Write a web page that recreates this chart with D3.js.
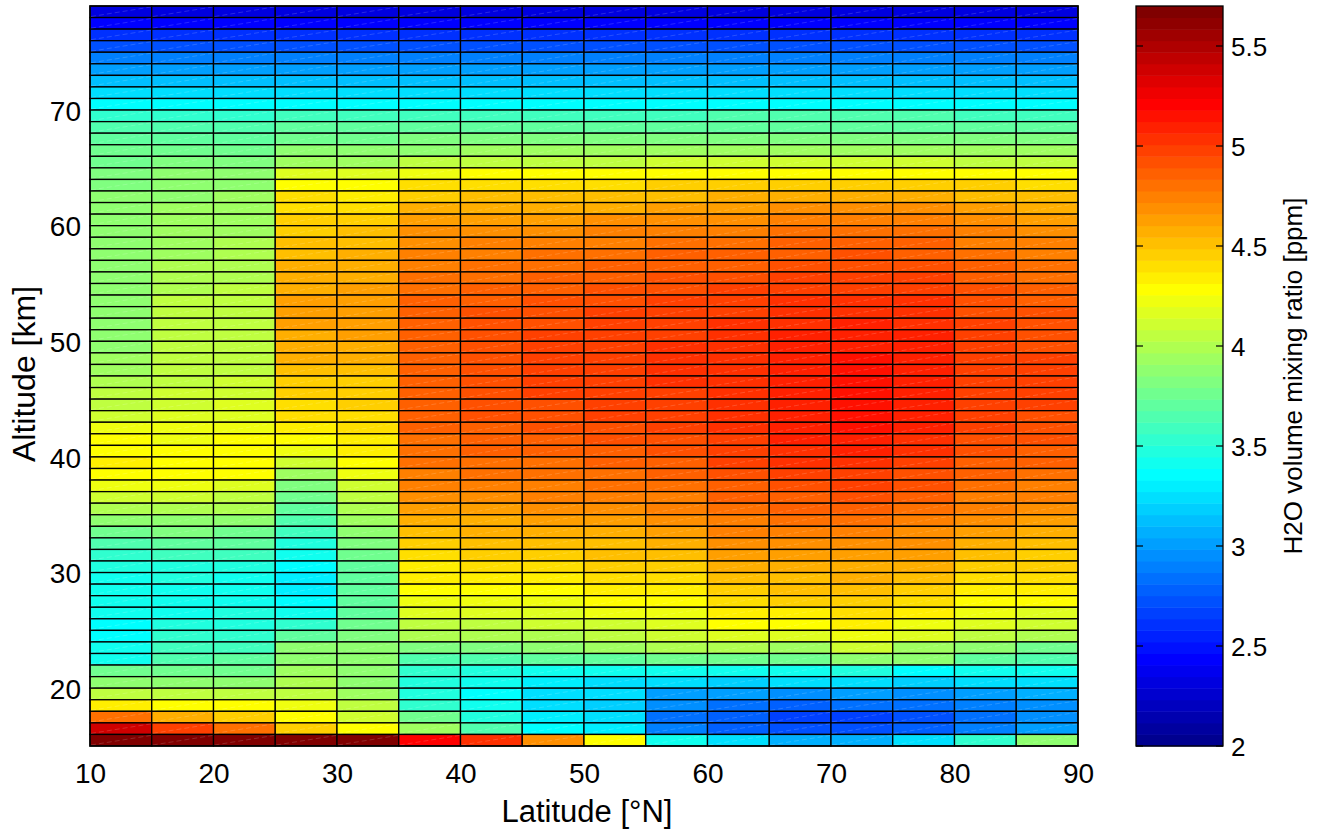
<!DOCTYPE html>
<html>
<head>
<meta charset="utf-8">
<script src="https://cdn.jsdelivr.net/npm/d3@7"></script>
<style>
  html, body { margin: 0; padding: 0; background: #fff; }
  svg text { font-family: "Liberation Sans", Arial, Helvetica, sans-serif; fill: #000; }
</style>
</head>
<body>
<svg id="chart" width="1319" height="830"></svg>
<script>
// ---------------- DATA ----------------
// Latitude bin edges [°N]
const latEdges = [10, 15, 20, 25, 30, 35, 40, 45, 50, 55, 60, 65, 70, 75, 80, 85, 90];
// Altitude of the lower edge of each 1-km row, from top (78 km) to bottom (15 km)
const altitudes = [78,77,76,75,74,73,72,71,70,69,68,67,66,65,64,63,62,61,60,59,58,57,56,55,54,53,52,51,50,49,48,47,46,45,44,43,42,41,40,39,38,37,36,35,34,33,32,31,30,29,28,27,26,25,24,23,22,21,20,19,18,17,16,15];

// H2O VMR [ppm] per latitude bin, listed top (78 km) to bottom (15 km)
const lat10 = [2.33,2.45,2.6,2.75,2.9,3.02,3.14,3.26,3.38,
  3.55,3.62,3.68,3.74,3.78,3.82,3.84,3.85,3.86,3.86,
  3.86,3.87,3.87,3.88,3.88,3.88,3.88,3.88,3.88,3.88,
  3.9,3.92,3.95,3.98,4.03,4.08,4.13,4.2,4.27,4.31,
  4.32,4.3,4.22,4.12,4.0,3.88,3.78,3.66,3.56,3.48,
  3.42,3.4,3.4,3.39,3.38,3.38,3.39,3.42,3.74,3.87,
  4.08,4.35,4.83,5.4,5.65];
const lat15 = [2.33,2.45,2.6,2.75,2.9,3.02,3.14,3.26,3.38,
  3.56,3.63,3.7,3.76,3.8,3.85,3.88,3.9,3.92,3.93,
  3.94,3.95,3.96,3.98,4.0,4.02,4.03,4.03,4.03,4.03,
  4.04,4.05,4.06,4.08,4.1,4.13,4.16,4.2,4.24,4.28,
  4.3,4.28,4.2,4.1,4.0,3.9,3.8,3.7,3.6,3.5,
  3.45,3.42,3.42,3.44,3.48,3.52,3.6,3.65,3.78,3.9,
  4.08,4.31,4.58,5.0,5.65];
const lat20 = [2.33,2.45,2.6,2.75,2.9,3.02,3.14,3.26,3.38,
  3.56,3.63,3.7,3.76,3.82,3.87,3.9,3.92,3.94,3.95,
  3.96,3.97,3.98,4.0,4.02,4.03,4.04,4.04,4.04,4.04,
  4.05,4.06,4.08,4.1,4.12,4.15,4.18,4.22,4.26,4.29,
  4.3,4.27,4.18,4.08,3.98,3.88,3.78,3.68,3.58,3.48,
  3.42,3.4,3.42,3.45,3.5,3.55,3.6,3.72,3.78,3.9,
  4.08,4.28,4.48,4.83,5.65];
const lat25 = [2.33,2.45,2.6,2.75,2.9,3.02,3.14,3.26,3.38,
  3.6,3.68,3.76,3.85,3.95,4.15,4.3,4.38,4.42,4.45,
  4.47,4.5,4.52,4.55,4.58,4.6,4.62,4.62,4.62,4.6,
  4.58,4.55,4.5,4.46,4.43,4.42,4.4,4.36,4.3,4.22,
  4.1,3.95,3.82,3.75,3.72,3.65,3.58,3.5,3.42,3.36,
  3.32,3.32,3.35,3.4,3.55,3.7,3.85,3.9,3.96,4.02,
  4.08,4.2,4.31,4.45,5.65];
const lat30 = [2.33,2.45,2.6,2.75,2.9,3.02,3.14,3.26,3.38,
  3.6,3.68,3.76,3.85,3.95,4.15,4.28,4.36,4.42,4.46,
  4.5,4.52,4.55,4.57,4.6,4.62,4.63,4.64,4.64,4.63,
  4.6,4.56,4.52,4.48,4.45,4.43,4.42,4.4,4.37,4.33,
  4.28,4.2,4.12,4.05,3.98,3.92,3.86,3.8,3.75,3.7,
  3.68,3.68,3.7,3.72,3.76,3.8,3.85,3.85,3.88,3.9,
  3.92,4.05,4.12,4.31,5.65];
const lat35 = [2.33,2.45,2.6,2.75,2.9,3.02,3.14,3.26,3.38,
  3.6,3.7,3.8,3.9,4.05,4.25,4.38,4.48,4.56,4.62,
  4.67,4.71,4.74,4.77,4.8,4.82,4.84,4.85,4.86,4.87,
  4.88,4.88,4.88,4.88,4.87,4.86,4.85,4.84,4.82,4.8,
  4.78,4.75,4.72,4.68,4.63,4.57,4.52,4.47,4.42,4.37,
  4.32,4.26,4.2,4.14,4.07,3.98,3.8,3.65,3.55,3.5,
  3.5,3.55,3.75,3.95,5.22];
const lat40 = [2.33,2.45,2.6,2.75,2.9,3.02,3.14,3.26,3.38,
  3.6,3.7,3.8,3.92,4.08,4.28,4.4,4.5,4.58,4.64,
  4.69,4.73,4.77,4.8,4.83,4.86,4.88,4.9,4.91,4.92,
  4.93,4.93,4.93,4.93,4.92,4.91,4.9,4.88,4.86,4.84,
  4.81,4.78,4.74,4.7,4.65,4.6,4.55,4.5,4.45,4.4,
  4.34,4.28,4.21,4.14,4.06,3.98,3.82,3.62,3.46,3.4,
  3.38,3.4,3.5,3.65,5.06];
const lat45 = [2.33,2.45,2.6,2.75,2.9,3.02,3.14,3.26,3.38,
  3.6,3.7,3.8,3.92,4.08,4.28,4.4,4.5,4.58,4.65,
  4.7,4.75,4.79,4.83,4.86,4.89,4.91,4.93,4.94,4.95,
  4.96,4.96,4.96,4.96,4.95,4.94,4.93,4.91,4.89,4.86,
  4.83,4.8,4.76,4.72,4.67,4.62,4.57,4.52,4.47,4.42,
  4.37,4.31,4.25,4.18,4.1,4.02,3.88,3.68,3.42,3.3,
  3.26,3.26,3.3,3.38,4.66];
const lat50 = [2.33,2.45,2.6,2.75,2.9,3.02,3.14,3.26,3.38,
  3.6,3.7,3.8,3.93,4.08,4.28,4.41,4.51,4.6,4.67,
  4.72,4.77,4.81,4.85,4.88,4.91,4.93,4.95,4.96,4.97,
  4.98,4.98,4.98,4.98,4.97,4.96,4.95,4.93,4.91,4.88,
  4.85,4.82,4.78,4.74,4.69,4.64,4.59,4.54,4.49,4.44,
  4.39,4.33,4.27,4.2,4.12,4.05,3.92,3.72,3.39,3.26,
  3.22,3.2,3.22,3.28,4.31];
const lat55 = [2.33,2.45,2.6,2.75,2.9,3.02,3.14,3.26,3.38,
  3.6,3.7,3.81,3.94,4.09,4.29,4.43,4.54,4.63,4.7,
  4.75,4.8,4.84,4.88,4.91,4.94,4.96,4.98,4.99,5.0,
  5.01,5.01,5.01,5.01,5.0,4.99,4.98,4.96,4.94,4.91,
  4.88,4.85,4.81,4.77,4.72,4.67,4.62,4.57,4.52,4.47,
  4.42,4.36,4.3,4.23,4.16,4.1,4.02,3.78,3.39,3.22,
  3.03,2.93,2.85,2.88,3.39];
const lat60 = [2.33,2.45,2.6,2.75,2.9,3.02,3.14,3.26,3.38,
  3.62,3.72,3.83,3.95,4.1,4.3,4.45,4.56,4.64,4.71,
  4.76,4.81,4.85,4.89,4.92,4.95,4.98,5.0,5.02,5.03,
  5.04,5.05,5.06,5.06,5.06,5.05,5.04,5.02,5.0,4.98,
  4.95,4.92,4.88,4.84,4.8,4.76,4.72,4.67,4.62,4.57,
  4.52,4.47,4.41,4.35,4.27,4.15,4.02,3.78,3.39,3.2,
  3.0,2.85,2.76,2.79,3.25];
const lat65 = [2.33,2.45,2.6,2.75,2.9,3.02,3.14,3.26,3.38,
  3.62,3.72,3.83,3.95,4.1,4.3,4.46,4.58,4.67,4.74,
  4.8,4.85,4.89,4.93,4.96,4.99,5.02,5.04,5.06,5.08,
  5.09,5.1,5.11,5.12,5.12,5.12,5.11,5.09,5.07,5.04,
  5.01,4.97,4.93,4.89,4.84,4.79,4.74,4.69,4.64,4.59,
  4.54,4.49,4.43,4.37,4.3,4.18,3.96,3.78,3.39,3.22,
  2.97,2.76,2.64,2.73,3.06];
const lat70 = [2.33,2.45,2.6,2.75,2.9,3.02,3.14,3.26,3.38,
  3.62,3.72,3.83,3.96,4.11,4.31,4.47,4.59,4.68,4.75,
  4.81,4.86,4.9,4.94,4.97,5.0,5.03,5.06,5.08,5.1,
  5.12,5.14,5.15,5.16,5.17,5.17,5.16,5.14,5.11,5.08,
  5.04,5.0,4.95,4.9,4.85,4.8,4.75,4.7,4.65,4.6,
  4.55,4.5,4.45,4.39,4.32,4.22,4.13,3.85,3.5,3.25,
  3.03,2.85,2.67,2.73,3.06];
const lat75 = [2.33,2.45,2.6,2.75,2.9,3.02,3.14,3.26,3.38,
  3.62,3.72,3.83,3.95,4.1,4.3,4.46,4.58,4.67,4.74,
  4.8,4.85,4.89,4.93,4.96,4.99,5.02,5.04,5.06,5.08,
  5.09,5.1,5.11,5.12,5.12,5.11,5.1,5.08,5.05,5.02,
  4.98,4.94,4.9,4.86,4.81,4.76,4.71,4.66,4.61,4.56,
  4.5,4.45,4.39,4.33,4.25,4.14,3.96,3.85,3.35,3.17,
  2.97,2.82,2.7,2.76,3.25];
const lat80 = [2.33,2.45,2.6,2.75,2.9,3.02,3.14,3.26,3.38,
  3.6,3.7,3.81,3.93,4.08,4.28,4.43,4.54,4.62,4.68,
  4.73,4.77,4.81,4.84,4.87,4.9,4.92,4.94,4.96,4.97,
  4.98,4.99,5.0,5.0,5.0,4.99,4.98,4.96,4.94,4.91,
  4.88,4.84,4.8,4.76,4.72,4.67,4.62,4.57,4.52,4.47,
  4.42,4.36,4.3,4.23,4.15,4.03,3.85,3.72,3.39,3.22,
  3.03,2.9,2.85,2.88,3.55];
const lat85 = [2.33,2.45,2.6,2.75,2.9,3.02,3.14,3.26,3.38,
  3.6,3.7,3.8,3.92,4.06,4.26,4.4,4.5,4.58,4.64,
  4.69,4.73,4.77,4.8,4.83,4.86,4.88,4.9,4.92,4.93,
  4.94,4.95,4.96,4.96,4.96,4.95,4.94,4.92,4.9,4.87,
  4.84,4.8,4.76,4.72,4.68,4.63,4.58,4.53,4.48,4.43,
  4.38,4.32,4.26,4.19,4.1,3.98,3.78,3.65,3.39,3.22,
  3.06,2.95,2.93,3.03,3.85];

const columns = [lat10, lat15, lat20, lat25, lat30, lat35, lat40, lat45, lat50, lat55, lat60, lat65, lat70, lat75, lat80, lat85];

const xTicks = [10, 20, 30, 40, 50, 60, 70, 80, 90];
const yTicks = [20, 30, 40, 50, 60, 70];
const cbTicks = [2, 2.5, 3, 3.5, 4, 4.5, 5, 5.5];
const cRange = [2, 5.7];
const xLabel = "Latitude [°N]";
const yLabel = "Altitude [km]";
const cbLabel = "H2O volume mixing ratio [ppm]";

// ---------------- COLORMAP (MATLAB jet, 64 levels) ----------------
function jetMap(n) {
  const m = Math.ceil(n / 4);
  const u = [];
  for (let i = 1; i <= m; i++) u.push(i / m);
  for (let i = 1; i < m; i++) u.push(1);
  for (let i = m; i >= 1; i--) u.push(i / m);
  const off = Math.ceil(m / 2) - (n % 4 === 1 ? 1 : 0);
  const J = Array.from({length: n}, () => [0, 0, 0]);
  for (let k = 0; k < u.length; k++) {
    const g = off + k + 1, r = g + m, b = g - m;
    if (r >= 1 && r <= n) J[r - 1][0] = u[k];
    if (g >= 1 && g <= n) J[g - 1][1] = u[k];
    if (b >= 1 && b <= n) J[b - 1][2] = u[k];
  }
  return J.map(c => d3.rgb(c[0] * 255, c[1] * 255, c[2] * 255).formatHex());
}
const jet = jetMap(64);
const colorIndex = d3.scaleQuantize().domain(cRange).range(d3.range(64));
const color = v => jet[Math.max(0, Math.min(63, colorIndex(v)))];

// ---------------- LAYOUT ----------------
const svg = d3.select("#chart");
const plot = {left: 90, right: 1078, top: 6, bottom: 746};
const cb = {left: 1136, right: 1223, top: 6, bottom: 746};
const FONT = "'Liberation Sans', Arial, sans-serif";

const x = d3.scaleLinear().domain([10, 90]).range([plot.left, plot.right]);
const y = d3.scaleLinear().domain([15, 79]).range([plot.bottom, plot.top]);
const yc = d3.scaleLinear().domain(cRange).range([cb.bottom, cb.top]);

const cells = [];
columns.forEach((col, ci) => {
  col.forEach((v, ri) => {
    cells.push({x0: latEdges[ci], x1: latEdges[ci + 1], a0: altitudes[ri], a1: altitudes[ri] + 1, v});
  });
});

const g = svg.append("g");
g.selectAll("rect.cell").data(cells).join("rect")
  .attr("class", "cell")
  .attr("x", d => x(d.x0))
  .attr("y", d => y(d.a1))
  .attr("width", d => x(d.x1) - x(d.x0))
  .attr("height", d => y(d.a0) - y(d.a1))
  .attr("fill", d => color(d.v))
  .attr("stroke", "#000")
  .attr("stroke-width", 1.3);

// faint diagonal seams (triangle split of each quad)
g.selectAll("line.seam").data(cells).join("line")
  .attr("class", "seam")
  .attr("x1", d => x(d.x0) + 1).attr("y1", d => y(d.a0) - 1)
  .attr("x2", d => x(d.x1) - 1).attr("y2", d => y(d.a1) + 1)
  .attr("stroke", "#fff").attr("stroke-opacity", 0.22)
  .attr("stroke-width", 0.7).attr("stroke-dasharray", "5 3");

// border
svg.append("rect")
  .attr("x", plot.left).attr("y", plot.top)
  .attr("width", plot.right - plot.left).attr("height", plot.bottom - plot.top)
  .attr("fill", "none").attr("stroke", "#000").attr("stroke-width", 1.5);

// axes
const xAxis = svg.append("g").attr("transform", `translate(0,${plot.bottom})`)
  .call(d3.axisBottom(x).tickValues(xTicks).tickSize(0).tickFormat(d3.format("d")));
xAxis.select(".domain").remove();
xAxis.selectAll("text").attr("y", 37).attr("dy", null)
  .style("font-size", "28px").style("font-family", FONT);

const yAxis = svg.append("g").attr("transform", `translate(${plot.left},0)`)
  .call(d3.axisLeft(y).tickValues(yTicks).tickSize(0).tickPadding(9).tickFormat(d3.format("d")));
yAxis.select(".domain").remove();
yAxis.selectAll("text").attr("dy", "0.36em")
  .style("font-size", "28px").style("font-family", FONT);

svg.append("text").attr("x", (plot.left + plot.right) / 2 + 3).attr("y", 822)
  .attr("text-anchor", "middle").style("font-size", "31px").text(xLabel);
svg.append("text").attr("transform", `translate(35,${(plot.top + plot.bottom) / 2 - 2}) rotate(-90)`)
  .attr("text-anchor", "middle").style("font-size", "32px").text(yLabel);

// colorbar
const levels = d3.range(64);
const step = (cRange[1] - cRange[0]) / 64;
svg.append("g").selectAll("rect").data(levels).join("rect")
  .attr("x", cb.left)
  .attr("y", k => yc(cRange[0] + (k + 1) * step))
  .attr("width", cb.right - cb.left)
  .attr("height", k => yc(cRange[0] + k * step) - yc(cRange[0] + (k + 1) * step) + 0.5)
  .attr("fill", k => jet[k]);
svg.append("rect").attr("x", cb.left).attr("y", cb.top)
  .attr("width", cb.right - cb.left).attr("height", cb.bottom - cb.top)
  .attr("fill", "none").attr("stroke", "#000").attr("stroke-width", 1.3);
const cbt = svg.append("g");
cbt.selectAll("line.l").data(cbTicks).join("line").attr("class", "l")
  .attr("x1", cb.left).attr("x2", cb.left + 7).attr("y1", d => yc(d)).attr("y2", d => yc(d))
  .attr("stroke", "#000").attr("stroke-width", 1.2);
cbt.selectAll("line.r").data(cbTicks).join("line").attr("class", "r")
  .attr("x1", cb.right - 7).attr("x2", cb.right).attr("y1", d => yc(d)).attr("y2", d => yc(d))
  .attr("stroke", "#000").attr("stroke-width", 1.2);
const cAxis = svg.append("g").attr("transform", `translate(${cb.right},0)`)
  .call(d3.axisRight(yc).tickValues(cbTicks).tickSize(0).tickPadding(8).tickFormat(d => String(d)));
cAxis.select(".domain").remove();
cAxis.selectAll("text").attr("dy", "0.36em")
  .style("font-size", "26px").style("font-family", FONT);

svg.append("text").attr("transform", `translate(1302,${(cb.top + cb.bottom) / 2}) rotate(-90)`)
  .attr("text-anchor", "middle").style("font-size", "26px").text(cbLabel);
</script>
</body>
</html>
